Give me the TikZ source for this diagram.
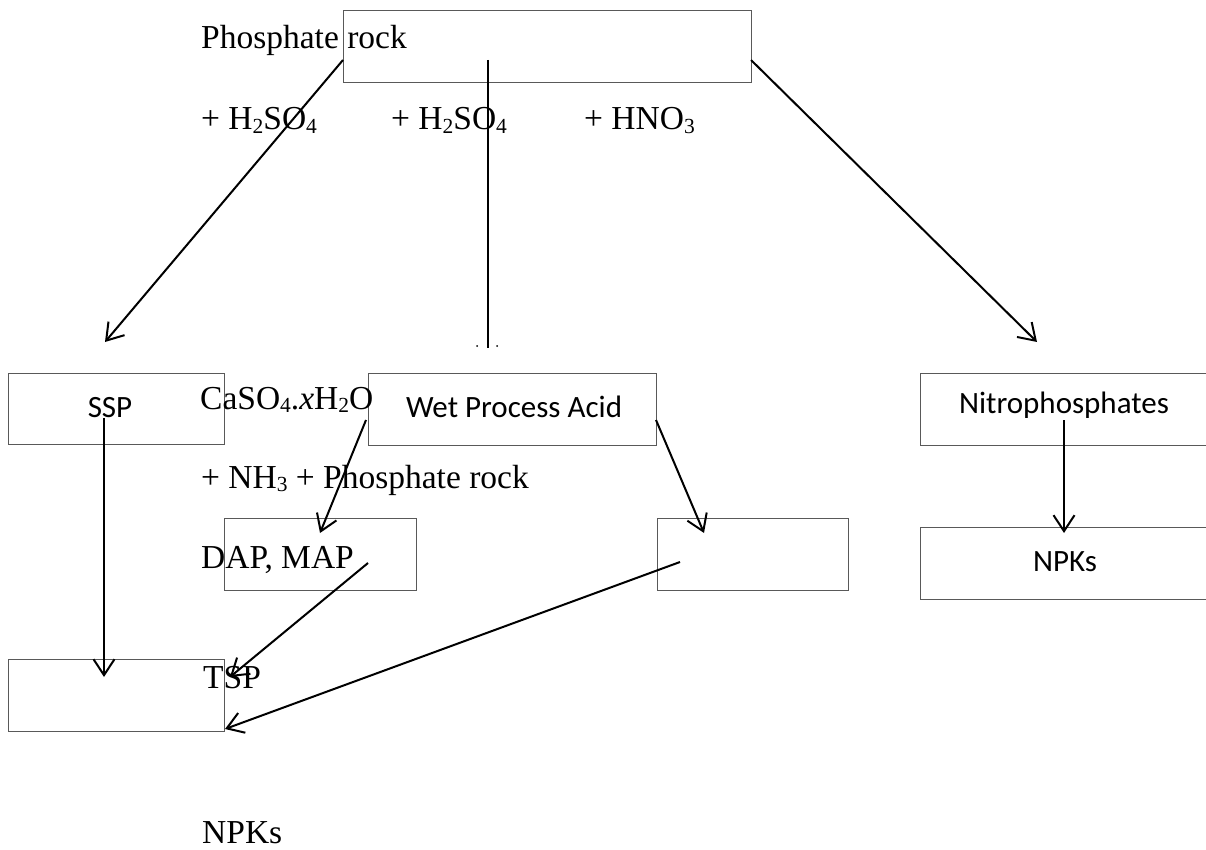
\documentclass[tikz,border=0pt]{standalone}
\usepackage{fontspec}
\setmainfont{Liberation Serif}
\newfontfamily\calfont{Carlito}
\usetikzlibrary{arrows.meta}
\newcommand\sbs[1]{\raisebox{-0.1em}{\fontsize{21.5}{22}\selectfont #1}}
\begin{document}
\begin{tikzpicture}[x=1pt,y=-1pt,
  box/.style={draw=black!65,line width=1pt},
  serif/.style={anchor=base west,inner sep=0pt,font=\fontsize{33.5}{36}\selectfont},
  calt/.style={anchor=base,inner sep=0pt,font=\calfont\fontsize{31}{33}\selectfont},
  arr/.style={line width=2pt,-{Straight Barb[length=16pt,width=21pt,line width=2pt]}},
  ln/.style={line width=2pt}]
\useasboundingbox (0,0) rectangle (1206,850);
\begin{scope}
\clip (0,0) rectangle (1206,850);
% boxes
\draw[box] (343,11) rectangle (751,83);
\draw[box] (8,373) rectangle (224,444);
\draw[box] (368,373) rectangle (656,445);
\draw[box] (920,373) rectangle (1215,445);
\draw[box] (224,518) rectangle (416,590);
\draw[box] (657,518) rectangle (848,590);
\draw[box] (920,527) rectangle (1215,599);
\draw[box] (8,659) rectangle (224,731);
\end{scope}
% serif texts
\node[serif] (t1) at (201,49) {Phosphate rock};
\node[serif] (t2) at (201,130) {+ H\sbs{2}SO\sbs{4}};
\node[serif] (t3) at (391,130) {+ H\sbs{2}SO\sbs{4}};
\node[serif] (t4) at (584,130) {+ HNO\sbs{3}};
\node[serif] (t5) at (200,409) {CaSO\sbs{4}.\textit{x}H\sbs{2}O};
\node[serif] (t6) at (201,488) {+ NH\sbs{3} + Phosphate rock};
\node[serif] (t7) at (201,568) {DAP, MAP};
\node[serif] (t8) at (203,688) {TSP};
\node[serif] (t9) at (202,843) {NPKs};
% calibri texts
\node[calt] (c1) at (110,417) {SSP};
\node[calt] (c2) at (514,417) {Wet Process Acid};
\node[calt] (c3) at (1064,413) {Nitrophosphates};
\node[calt] (c4) at (1065,571) {NPKs};
% connector coordinates
\coordinate (a1s) at (343,60);   \coordinate (a1e) at (105,342);
\coordinate (a2s) at (488,60);   \coordinate (a2e) at (488,348);
\coordinate (a3s) at (751,60);   \coordinate (a3e) at (1037,342);
\coordinate (a4s) at (104,418);  \coordinate (a4e) at (104,677);
\coordinate (a5s) at (366,420);  \coordinate (a5e) at (320,533);
\coordinate (a6s) at (656,420);  \coordinate (a6e) at (704,533);
\coordinate (a7s) at (1064,420); \coordinate (a7e) at (1064,533);
\coordinate (a8s) at (368,563);  \coordinate (a8e) at (230,677);
\coordinate (a9s) at (680,562);  \coordinate (a9e) at (225,729);
\coordinate (d1) at (477,346);   \coordinate (d2) at (497,346);
\draw[arr] (a1s) -- (a1e);
\draw[ln] (a2s) -- (a2e);
\fill (d1) circle (1pt);
\fill (d2) circle (1pt);
\draw[arr] (a3s) -- (a3e);
\draw[arr] (a4s) -- (a4e);
\draw[arr] (a5s) -- (a5e);
\draw[arr] (a6s) -- (a6e);
\draw[arr] (a7s) -- (a7e);
\draw[arr] (a8s) -- (a8e);
\draw[arr] (a9s) -- (a9e);
\end{tikzpicture}
\end{document}
